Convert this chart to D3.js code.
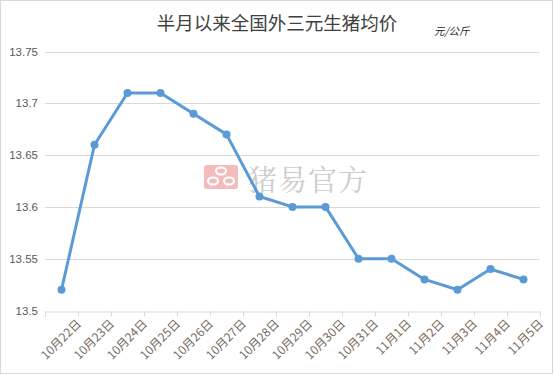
<!DOCTYPE html>
<html><head><meta charset="utf-8">
<script src="https://cdn.jsdelivr.net/npm/d3@7"></script>
<style>body{margin:0;background:#fff}svg{display:block}</style>
</head><body>
<svg id="c" width="555" height="375"></svg>
<script>
const categories = ["10月22日","10月23日","10月24日","10月25日","10月26日","10月27日","10月28日","10月29日","10月30日","10月31日","11月1日","11月2日","11月3日","11月4日","11月5日"];
const prices = [13.52,13.66,13.71,13.71,13.69,13.67,13.61,13.60,13.60,13.55,13.55,13.53,13.52,13.54,13.53];
const yTicks = [13.5,13.55,13.6,13.65,13.7,13.75];
const yTickLabels = ["13.5","13.55","13.6","13.65","13.7","13.75"];
const title = "半月以来全国外三元生猪均价";
const unit = "元/公斤";
const watermark = "猪易官方";

const svg = d3.select("#c");
svg.append("rect").attr("x",0.5).attr("y",0.5).attr("width",552).attr("height",373)
  .attr("fill","#fff").attr("stroke","#d9d9d9");

const x = d3.scaleBand().domain(categories).range([45,540]);
const y = d3.scaleLinear().domain([13.5,13.75]).range([310.5,51.5]);

// gridlines
svg.append("g").selectAll("line").data(yTicks.slice(1)).join("line")
  .attr("x1",45).attr("x2",540).attr("y1",d=>Math.round(y(d))+0.5).attr("y2",d=>Math.round(y(d))+0.5)
  .attr("stroke","#d9d9d9").attr("stroke-width",1);

// y axis labels
const ya = svg.append("g").attr("transform","translate(38,0)")
  .call(d3.axisLeft(y).tickValues(yTicks).tickFormat((d,i)=>yTickLabels[i]).tickSize(0).tickPadding(0));
ya.select(".domain").remove();
ya.selectAll("text").attr("font-family","Liberation Sans, Arial, sans-serif").attr("font-size",11.5).attr("fill","#595959");

// x axis
const xa = svg.append("g").attr("transform",`translate(0,${Math.round(y(13.5))+0.5})`)
  .call(d3.axisBottom(x).tickSize(0));
xa.select(".domain").attr("stroke","#d9d9d9");
svg.append("g").selectAll("line").data(d3.range(categories.length+1)).join("line")
  .attr("x1",i=>Math.round(45+i*x.step())+0.5).attr("x2",i=>Math.round(45+i*x.step())+0.5)
  .attr("y1",Math.round(y(13.5))+0.5).attr("y2",Math.round(y(13.5))+5.5)
  .attr("stroke","#d9d9d9");
xa.selectAll("text")
  .attr("font-family","Noto Sans CJK SC, sans-serif").attr("font-size",12).attr("fill","#7a6a5c")
  .attr("text-anchor","end").attr("dy",0).attr("y",0).attr("x",0)
  .attr("transform",`translate(${x.bandwidth()/2+4},13) rotate(-45)`);

// watermark
const wm = svg.append("g");
wm.append("rect").attr("x",204).attr("y",165).attr("width",34).attr("height",24).attr("rx",3).attr("fill","#f2bcbc");
wm.append("ellipse").attr("cx",221).attr("cy",171).attr("rx",5).attr("ry",3.5).attr("fill","none").attr("stroke","#fff").attr("stroke-width",2.2);
wm.append("ellipse").attr("cx",213).attr("cy",181).attr("rx",5).attr("ry",3.5).attr("fill","none").attr("stroke","#fff").attr("stroke-width",2.2);
wm.append("ellipse").attr("cx",229).attr("cy",181).attr("rx",5).attr("ry",3.5).attr("fill","none").attr("stroke","#fff").attr("stroke-width",2.2);
wm.append("text").attr("x",248).attr("y",191).text(watermark)
  .attr("font-family","Noto Serif CJK SC, Noto Sans CJK SC, serif").attr("font-size",29)
  .attr("fill","#cdcdcd").attr("letter-spacing",1);

// line
const line = d3.line().x((d,i)=>x(categories[i])+x.bandwidth()/2).y(d=>y(d));
svg.append("path").datum(prices).attr("d",line).attr("fill","none")
  .attr("stroke","#5b9bd5").attr("stroke-width",3).attr("stroke-linejoin","round");
svg.append("g").selectAll("circle").data(prices).join("circle")
  .attr("cx",(d,i)=>x(categories[i])+x.bandwidth()/2).attr("cy",d=>y(d)).attr("r",4)
  .attr("fill","#5b9bd5");

// title
svg.append("text").attr("x",277).attr("y",30).attr("text-anchor","middle").text(title)
  .attr("font-family","Noto Sans CJK SC, sans-serif").attr("font-size",18.5).attr("fill","#404040");
svg.append("text").attr("x",434).attr("y",35).text(unit)
  .attr("font-family","Noto Sans CJK SC, sans-serif").attr("font-size",10.5).attr("font-style","italic").attr("fill","#262626");
</script>
</body></html>
